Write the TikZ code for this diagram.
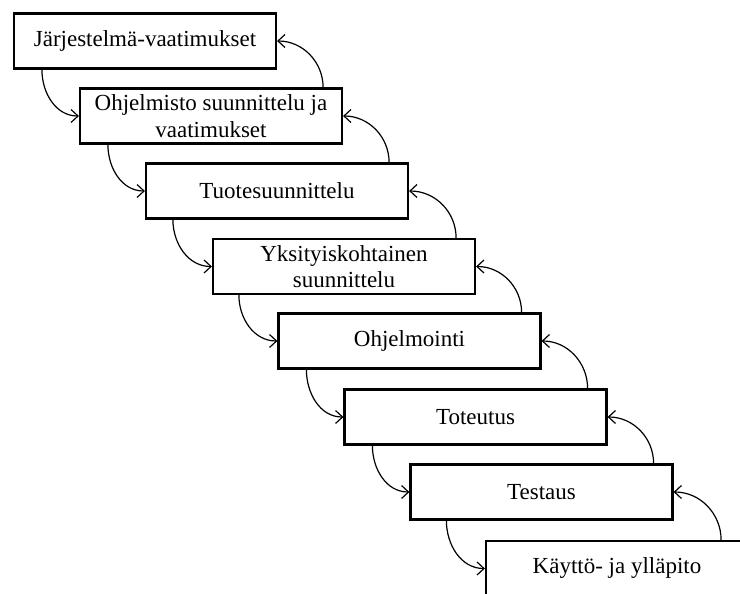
\documentclass[tikz,border=0pt]{standalone}
\usepackage{fontspec}
\setmainfont{Liberation Serif}
\usetikzlibrary{arrows.meta,calc}
\begin{document}
\begin{tikzpicture}[x=1pt,y=-1pt,
  stagebox/.style={draw,line width=2.2pt,fill=white,minimum width=262pt,minimum height=55pt,
    inner sep=0pt,align=center,font=\fontsize{23}{26.5}\selectfont},
  flow/.style={line width=1.2pt,-{Straight Barb[length=7pt,width=13pt,line width=1.2pt]}}]
\clip (0,0) rectangle (740,594);
\fill[white] (0,0) rectangle (740,594);
\node[stagebox] (b1) at (145,41) {Järjestelmä-vaatimukset};
\node[stagebox] (b2) at (211,116) {Ohjelmisto suunnittelu ja\\vaatimukset};
\node[stagebox] (b3) at (277,191) {Tuotesuunnittelu};
\node[stagebox] (b4) at (344,266.5) {Yksityiskohtainen\\suunnittelu};
\node[stagebox] (b5) at (409.5,341) {Ohjelmointi};
\node[stagebox] (b6) at (475.5,417) {Toteutus};
\node[stagebox] (b7) at (541.5,492) {Testaus};
\node[stagebox] (b8) at (617,568.5) {Käyttö- ja ylläpito};
% downward arrows
\draw[flow] ($(b1.south west)+(29,0)$) to[out=-90,in=180] (b2.west);
\draw[flow] ($(b2.south west)+(29,0)$) to[out=-90,in=180] (b3.west);
\draw[flow] ($(b3.south west)+(28,0)$) to[out=-90,in=180] (b4.west);
\draw[flow] ($(b4.south west)+(27,0)$) to[out=-90,in=180] (b5.west);
\draw[flow] ($(b5.south west)+(29,0)$) to[out=-90,in=180] (b6.west);
\draw[flow] ($(b6.south west)+(29,0)$) to[out=-90,in=180] (b7.west);
\draw[flow] ($(b7.south west)+(37,0)$) to[out=-90,in=180] (b8.west);
% upward arrows
\draw[flow] ($(b2.north east)+(-20,0)$) to[out=90,in=0] (b1.east);
\draw[flow] ($(b3.north east)+(-20,0)$) to[out=90,in=0] (b2.east);
\draw[flow] ($(b4.north east)+(-20,0)$) to[out=90,in=0] (b3.east);
\draw[flow] ($(b5.north east)+(-20,0)$) to[out=90,in=0] (b4.east);
\draw[flow] ($(b6.north east)+(-20,0)$) to[out=90,in=0] (b5.east);
\draw[flow] ($(b7.north east)+(-20,0)$) to[out=90,in=0] (b6.east);
\draw[flow] ($(b8.north east)+(-28,0)$) to[out=90,in=0] (b7.east);
\end{tikzpicture}
\end{document}
